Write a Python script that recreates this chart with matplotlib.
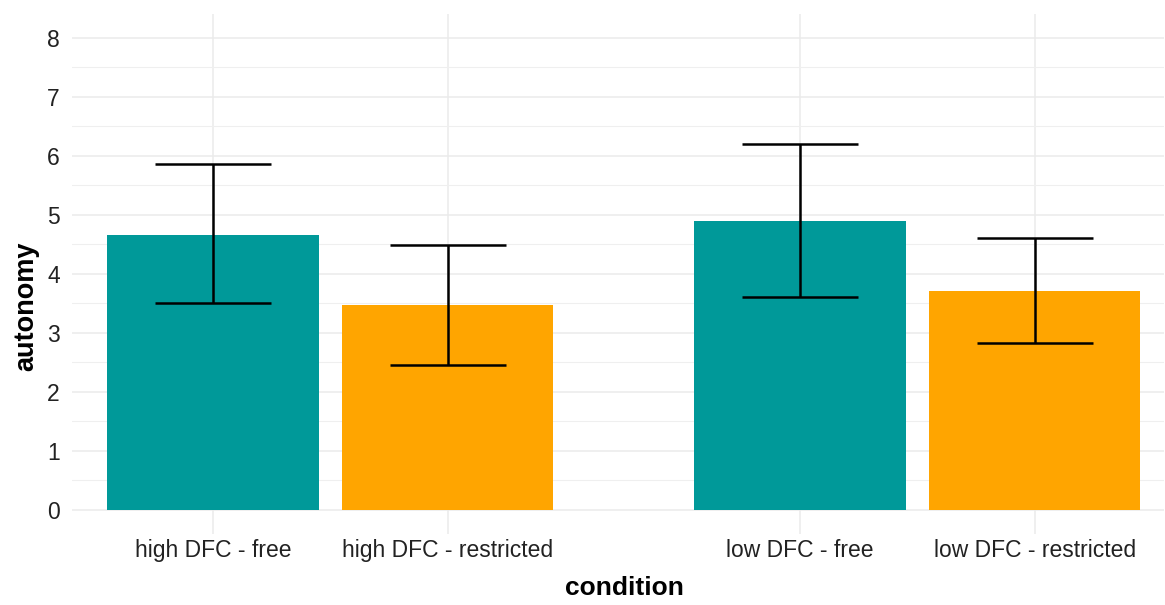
import numpy as np
import matplotlib.pyplot as plt

plt.rcParams['font.family'] = ['Liberation Sans', 'DejaVu Sans']

# values
conditions = ['high DFC - free', 'high DFC - restricted', 'low DFC - free', 'low DFC - restricted']
positions = [1, 2, 3.5, 4.5]
means = [4.66, 3.47, 4.90, 3.70]
upper = [5.86, 4.49, 6.20, 4.61]
lower = [3.51, 2.46, 3.61, 2.83]
colors = ['#009999', '#FFA500', '#009999', '#FFA500']

fig, ax = plt.subplots(figsize=(11.65, 6.05), dpi=100)
fig.subplots_adjust(left=0.062, right=0.999, top=0.977, bottom=0.118)

ax.bar(positions, means, width=0.9, color=colors, zorder=2)
yerr = [np.array(means) - np.array(lower), np.array(upper) - np.array(means)]
ax.errorbar(positions, means, yerr=yerr, fmt='none', ecolor='black',
            elinewidth=1.8, capsize=42, capthick=1.8, zorder=3)

ax.set_xlim(0.4, 5.05)
ax.set_ylim(-0.4, 8.4)
ax.set_yticks(range(0, 9))
ax.set_yticks(np.arange(0.5, 8, 1), minor=True)
ax.set_xticks(positions)
ax.set_xticklabels(conditions)

ax.grid(True, which='major', color='#ebebeb', linewidth=1.1, zorder=0)
ax.grid(True, which='minor', axis='y', color='#efefef', linewidth=0.8, zorder=0)
ax.set_axisbelow(True)
for s in ax.spines.values():
    s.set_visible(False)
ax.tick_params(axis='both', which='both', length=0, labelsize=16.5, colors='#222222')
ax.tick_params(axis='y', pad=9)
ax.tick_params(axis='x', pad=4)

ax.set_xlabel('condition', fontsize=19, fontweight='bold')
ax.set_ylabel('autonomy', fontsize=19.5, fontweight='bold')
ax.xaxis.set_label_coords(0.5055, -0.082)
ax.yaxis.set_label_coords(-0.030, 0.437)

fig.savefig('out.png')
